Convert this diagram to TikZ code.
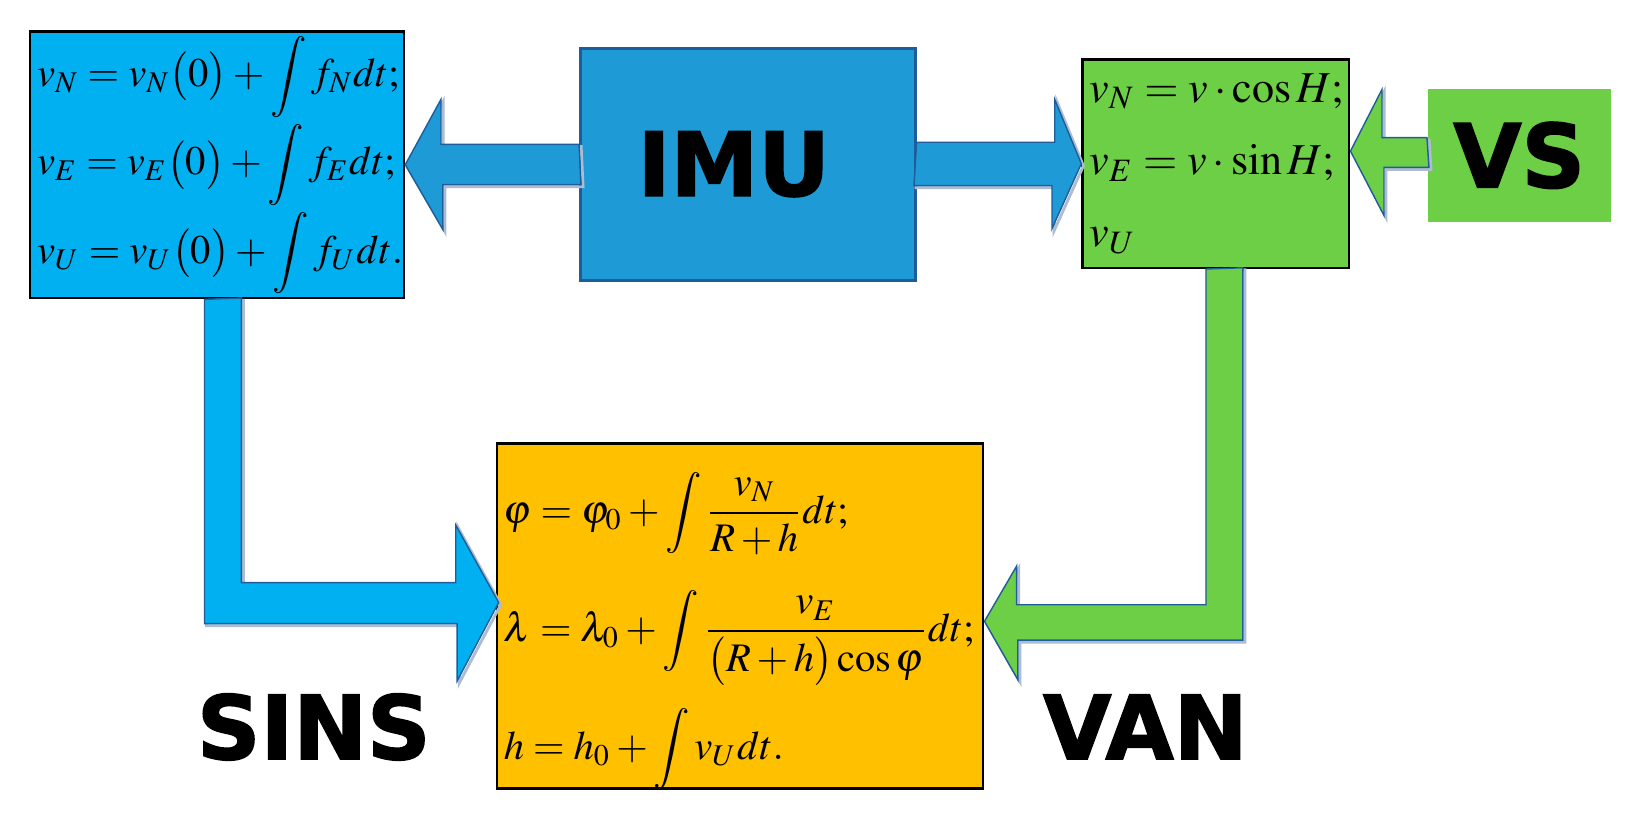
\documentclass[tikz,border=0pt]{standalone}
\usepackage{mathptmx}
\usepackage{fontspec}
\newfontfamily\labelfont{DejaVu Sans Bold}[FakeBold=1.8]
\usetikzlibrary{calc}
\definecolor{sinsblue}{HTML}{00B0F0}
\definecolor{imublue}{HTML}{1E9BD7}
\definecolor{vangreen}{HTML}{6DCF45}
\definecolor{navorange}{HTML}{FFC000}
\definecolor{edgeblue}{HTML}{1F5C9A}
\definecolor{shadowgrey}{HTML}{AEBCD2}
\tikzset{eqbox/.style = {draw, line width=0.7pt, inner xsep=2pt, inner ysep=0pt, align=left, font=\fontsize{11.5}{25}\selectfont}}
\tikzset{blocklabel/.style = {inner sep=0pt, font=\labelfont\fontsize{25}{30}\selectfont}}
\tikzset{blockarrow/.style = {draw=edgeblue, line width=0.4pt, preaction={draw=shadowgrey, line width=0.8pt, transform canvas={shift={(0.6pt,-0.6pt)}}}}}

\begin{document}
\begin{tikzpicture}[x=0.2965pt, y=-0.2965pt]
            \fill[white] (0,0) rectangle (1568,785);
            \useasboundingbox (0,0) rectangle (1568,785);
            \node[eqbox, fill=sinsblue, text width=102pt, minimum height=75.6pt] (sins) at (207.5,157.5)
                {\mbox{$v_N = v_N\bigl(0\bigr) + \displaystyle\int f_N dt;$}\\
                 \mbox{$v_E = v_E\bigl(0\bigr) + \displaystyle\int f_E dt;$}\\
                 \mbox{$v_U = v_U\bigl(0\bigr) + \displaystyle\int f_U dt.$}};
            \node[blocklabel, fill=imublue, draw=edgeblue, line width=0.8pt, minimum width=94.9pt, minimum height=65.8pt] (imu) at (715,157) {\hspace*{-8pt}IMU};
            \node[eqbox, fill=vangreen, text width=71.6pt, minimum height=59pt, font=\fontsize{12.5}{20.5}\selectfont] (van) at (1162.5,156.5)
                {\mbox{$v_N = v\cdot\cos H;$}\\
                 \mbox{$v_E = v\cdot\sin H;$}\\
                 $v_U$};
            \node[blocklabel, fill=vangreen, minimum width=51.9pt, minimum height=37.7pt] (vs) at (1452.5,148.5) {VS};
            \node[eqbox, fill=navorange, text width=133.9pt, minimum height=97.8pt, font=\fontsize{11.5}{33.5}\selectfont] (nav) at (707.5,589)
                {\mbox{$\varphi = \varphi_0 + \displaystyle\int\frac{v_N}{R+h}dt;$}\\
                 \mbox{$\lambda = \lambda_0 + \displaystyle\int\frac{v_E}{\bigl(R+h\bigr)\cos\varphi}dt;$}\\
                 \smash{\mbox{$h = h_0 + \displaystyle\int v_U dt.$}}};
            \node[blocklabel] (sinslabel) at (300,695) {SINS};
            \node[blocklabel] (vanlabel) at (1095,695) {VAN};
            % block arrows
            \draw[blockarrow, fill=imublue] (imu.west) ++(0,-19) -- ++(-132,0) -- ++(0,-43) -- (sins.east) -- ++(36,62) -- ++(0,-43) -- ++(132,0) -- cycle;
            \draw[blockarrow, fill=imublue] (imu.east) ++(0,-21) -- ++(132,0) -- ++(0,-41) -- (van.west) -- ++(-28,62) -- ++(0,-41) -- ++(-132,0) -- cycle;
            \draw[blockarrow, fill=vangreen] (vs.west) ++(0,-17) -- ++(-43,0) -- ++(0,-46) -- ([yshift=1.2pt]van.east |- vs.west) -- ++(32,61.5) -- ++(0,-46) -- ++(43,0) -- cycle;
            \coordinate (sinstip) at ($(nav.west)+(3,-13)$);
            \draw[blockarrow, fill=sinsblue] (sins.south) ++(-12,0) -- ++(0,310) -- ++(241.5,0) -- ++(0,55) -- (sinstip) -- ++(-41,-74) -- ++(0,55) -- ++(-205,0) -- ++(0,-272) -- cycle;
            \coordinate (vantip) at ($(nav.east)+(0,5)$);
            \draw[blockarrow, fill=vangreen] (van.south) ++(-9.5,0) -- ++(0,321) -- ++(-181,0) -- ++(0,-37) -- (vantip) -- ++(32,56) -- ++(0,-38) -- ++(215,0) -- ++(0,-356) -- cycle;
        \end{tikzpicture}
\end{document}
